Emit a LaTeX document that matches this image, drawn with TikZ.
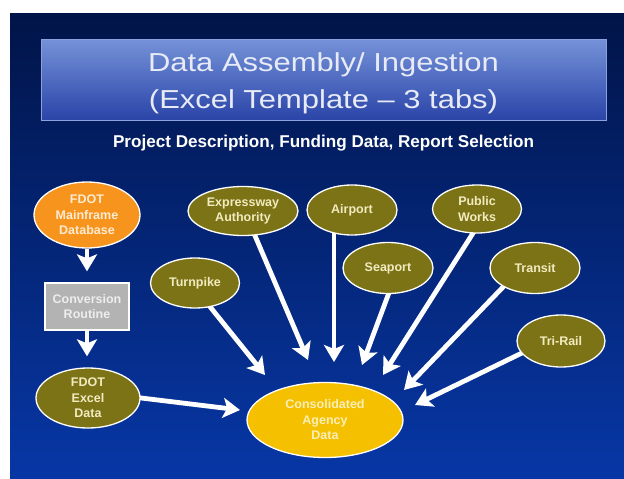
\documentclass[tikz,border=0pt]{standalone}
\usepackage{fontspec}
\setmainfont{Liberation Sans}
\newfontfamily\titlefont[FakeStretch=1.19,Ligatures=TeX]{Liberation Sans}
\usetikzlibrary{shapes.geometric,arrows.meta,calc}

\definecolor{bgtop}{HTML}{011448}
\definecolor{bgbot}{HTML}{0737A6}
\definecolor{bartop}{HTML}{7592D8}
\definecolor{barbot}{HTML}{2A44A8}
\definecolor{barline}{HTML}{8CA2DE}
\definecolor{titletext}{HTML}{E8EBF6}
\definecolor{olivefill}{HTML}{7B7315}
\definecolor{olivetext}{HTML}{F2EBC0}
\definecolor{orangefill}{HTML}{F7941D}
\definecolor{orangetext}{HTML}{FDEBD2}
\definecolor{yellowfill}{HTML}{F5C000}
\definecolor{yellowtext}{HTML}{FBEFB8}
\definecolor{greyfill}{HTML}{B3B3B3}
\definecolor{greytext}{HTML}{EDEDED}

\pgfdeclarelayer{slide}
\pgfdeclarelayer{links}
\pgfsetlayers{slide,links,main}

\tikzset{
  nodetext/.style={font=\fontsize{12.5}{15.5}\selectfont\bfseries, align=center, inner sep=0pt},
  agency/.style={nodetext, ellipse, draw=white, line width=1.3pt, fill=olivefill, text=olivetext},
  source/.style={nodetext, ellipse, draw=white, line width=1.3pt, fill=orangefill, text=orangetext},
  target/.style={nodetext, ellipse, draw=white, line width=1.3pt, fill=yellowfill, text=yellowtext},
  routine/.style={nodetext, rectangle, draw=white, line width=1.3pt, fill=greyfill, text=greytext},
  flow/.style={draw=white, line width=4.8pt, -{Stealth[length=17pt,width=20pt,inset=4pt]}},
  headline/.style={font=\titlefont\fontsize{26}{31}\selectfont, text=titletext, anchor=base, inner sep=0pt},
}

\begin{document}
\begin{tikzpicture}[x=1pt,y=-1pt]
\useasboundingbox (0,0) rectangle (624,479);

% slide background and title bar
\begin{pgfonlayer}{slide}
  \fill[white] (0,0) rectangle (624,479);
  \shade[top color=bgtop, bottom color=bgbot] (10,13) rectangle (624,479);
  \shade[top color=bartop, bottom color=barbot, draw=barline, line width=0.8pt] (41,39) rectangle (606,120);
\end{pgfonlayer}

% headings
\node[headline] (t1) at (323.5,71) {Data Assembly/ Ingestion};
\node[headline] (t2) at (323.5,108) {(Excel Template – 3 tabs)};
\node[font=\fontsize{17.1}{20}\selectfont\bfseries, text=white, anchor=base, inner sep=0pt] (sub) at (323.5,147) {Project Description, Funding Data, Report Selection};

% FDOT chain on the left
\node[source, minimum width=106pt, minimum height=66pt] (mf) at (87,215) {FDOT\\Mainframe\\Database};
\node[routine, minimum width=84pt, minimum height=47pt] (conv) at (87,306.5) {Conversion\\Routine};
\node[agency, minimum width=104pt, minimum height=60pt] (xl) at (88,398) {FDOT\\Excel\\Data};

% agencies
\node[agency, minimum width=110pt, minimum height=49pt] (ex) at (243,211) {Expressway\\Authority};
\node[agency, minimum width=89pt, minimum height=50pt] (tp) at (195,283) {Turnpike};
\node[agency, minimum width=90pt, minimum height=50pt] (ap) at (352,210) {Airport};
\node[agency, minimum width=90pt, minimum height=51pt] (sp) at (388,268) {Seaport};
\node[agency, minimum width=89pt, minimum height=48pt] (pw) at (477,209) {Public\\Works};
\node[agency, minimum width=90pt, minimum height=51pt] (tr) at (535,268) {Transit};
\node[agency, minimum width=88pt, minimum height=52pt] (tri) at (561,341) {Tri-Rail};

% consolidated store
\node[target, minimum width=156pt, minimum height=75pt] (cons) at (325,420) {Consolidated\\Agency\\Data};

% arrow tips around the consolidated store
\coordinate (tXl) at (240,410);
\coordinate (tTp) at (265,375);
\coordinate (tEx) at (308,360);
\coordinate (tAp) at (334,362);
\coordinate (tSp) at (362,365);
\coordinate (tPw) at (383,375);
\coordinate (tTr) at (404,390);
\coordinate (tTri) at (415,405);

% connectors
\begin{pgfonlayer}{links}
  \draw[flow, shorten >=11pt] (mf.south -| conv) -- (conv.north);
  \draw[flow, shorten >=11pt] (conv.south) -- (conv.south |- xl.north);
  \draw[flow] ($(xl)+(45,-1)$) -- (tXl);
  \draw[flow] ($(tp)+(12,20)$) -- (tTp);
  \draw[flow] ($(ex)+(10,20)$) -- (tEx);
  \draw[flow] ($(ap)+(-18,20)$) -- (tAp);
  \draw[flow] ($(sp)+(2,22)$) -- (tSp);
  \draw[flow] ($(pw)+(-2,21)$) -- (tPw);
  \draw[flow] ($(tr)+(-30,17)$) -- (tTr);
  \draw[flow] ($(tri)+(-37,11)$) -- (tTri);
\end{pgfonlayer}
\end{tikzpicture}
\end{document}
